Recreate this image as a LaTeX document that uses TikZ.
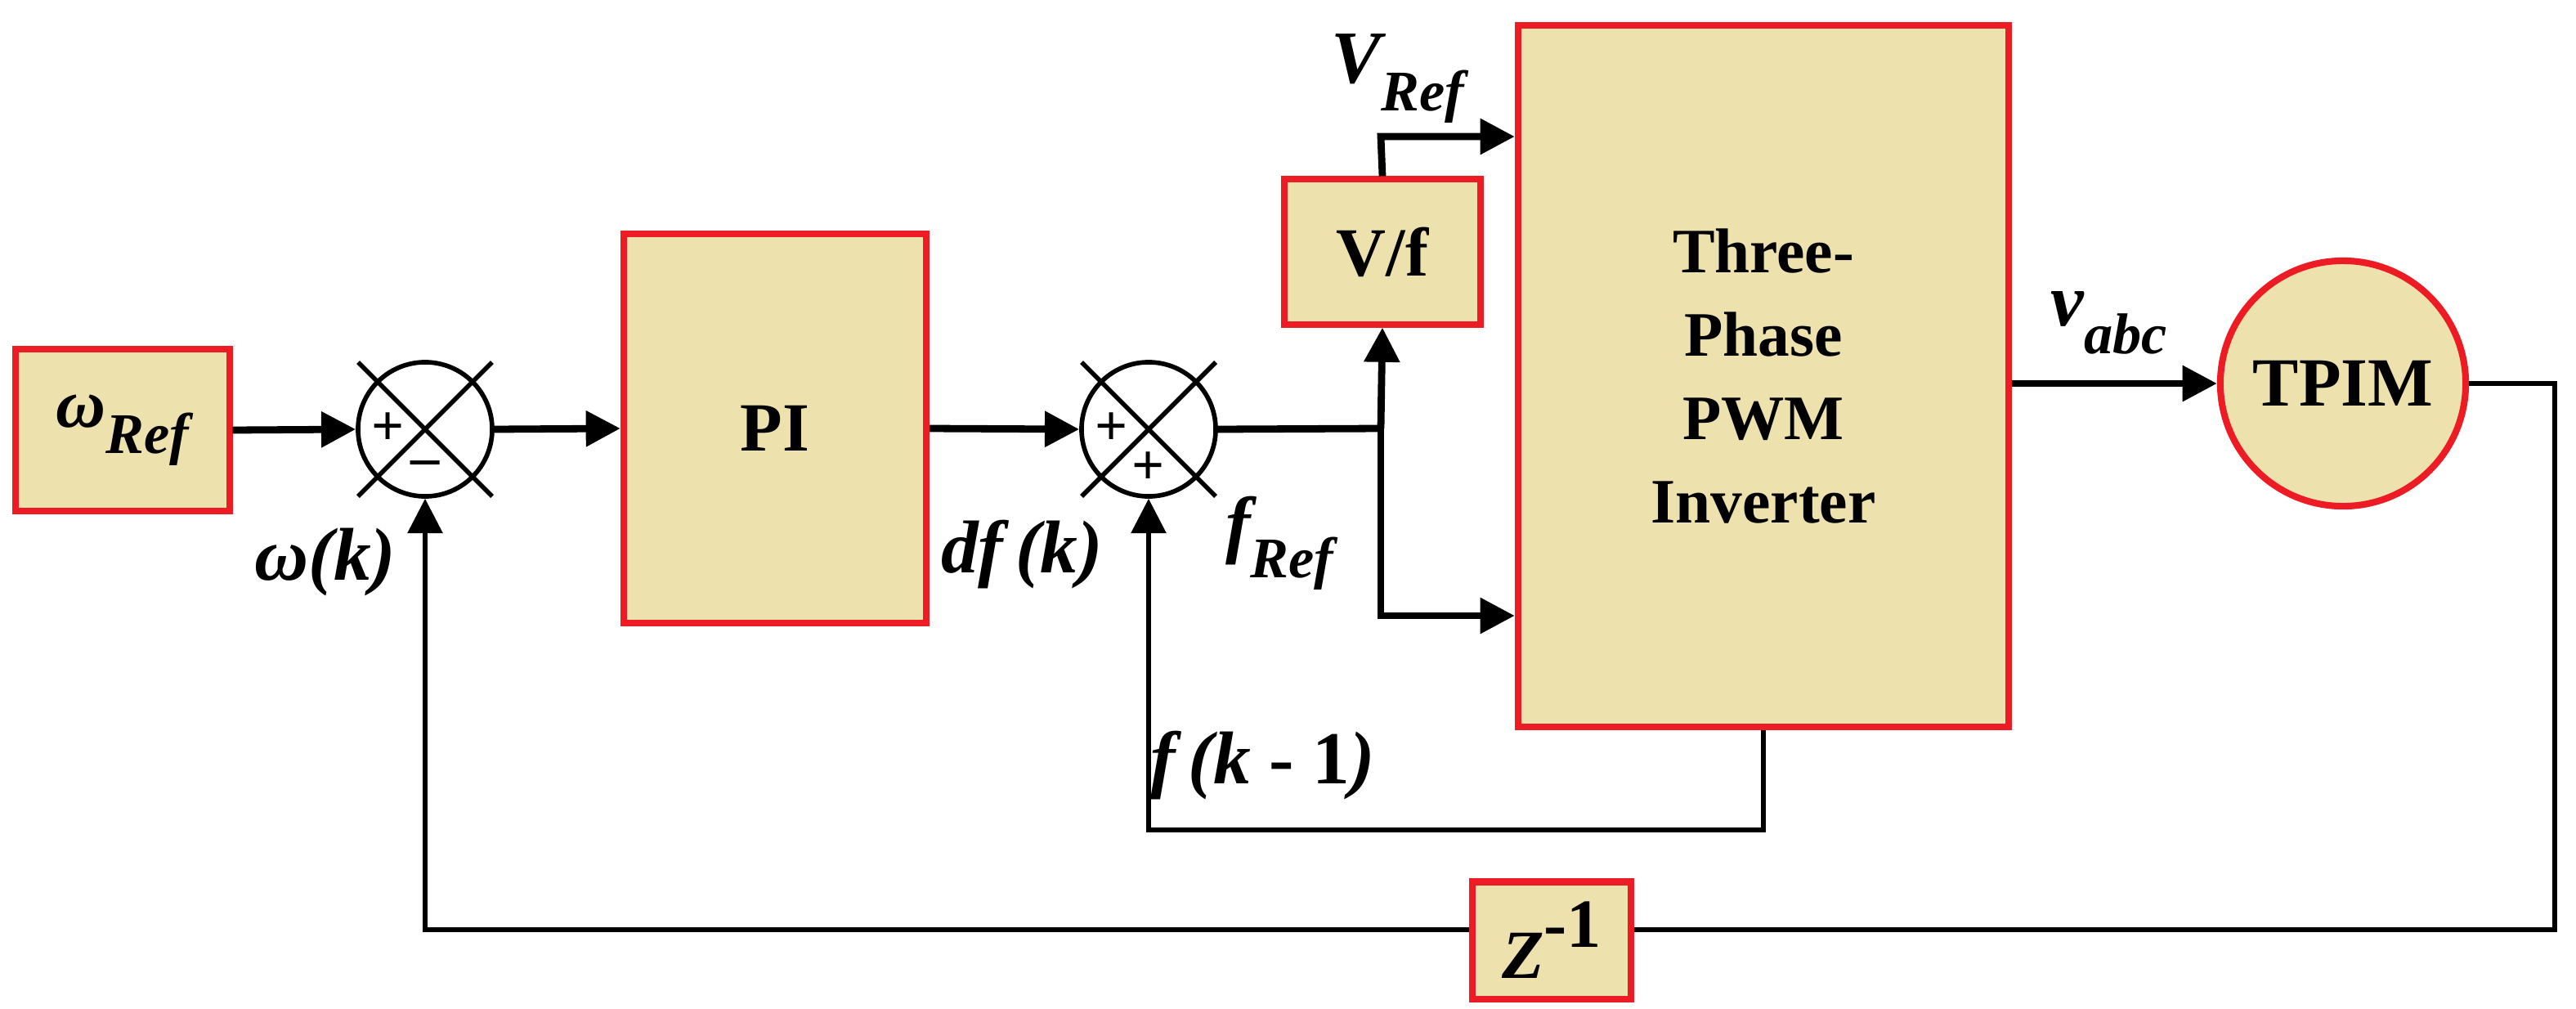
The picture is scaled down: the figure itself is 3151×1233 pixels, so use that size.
\documentclass[tikz,border=0pt]{standalone}
\usepackage{fontspec}
\setmainfont{Liberation Serif}
\usetikzlibrary{arrows.meta}
\definecolor{boxfill}{RGB}{237,225,174}
\definecolor{boxred}{RGB}{237,28,36}
\newcommand{\mysub}[1]{\raisebox{-0.38em}{\fontsize{20}{22}\selectfont\bfseries\itshape #1}}
\begin{document}
\begin{tikzpicture}[x=0.01cm,y=-0.01cm,
  blk/.style={draw=boxred,fill=boxfill,line width=2.3pt,inner sep=0pt,font=\fontsize{24}{27}\selectfont\bfseries,align=center},
  sumj/.style={circle,draw,line width=1.6pt,minimum size=1.64cm,inner sep=0pt},
  wire/.style={line width=2.5pt},
  fb/.style={line width=1.5pt},
  arr/.style={-{Triangle[length=12pt,width=12pt]}},
  lbl/.style={font=\fontsize{26}{28}\selectfont\bfseries\itshape,inner sep=0pt}]
\useasboundingbox (0,0) rectangle (3151,1233);
\node[blk,minimum width=2.61cm,minimum height=1.98cm] (wref) at (150,526) {\itshape ω\mysub{Ref}};
\node[sumj] (s1) at (520,525) {};
\node[blk,minimum width=3.70cm,minimum height=4.75cm] (pi) at (948,524) {PI};
\node[sumj] (s2) at (1405,525) {};
\node[blk,minimum width=2.40cm,minimum height=1.77cm] (vf) at (1691,308) {V/f};
\node[blk,minimum width=6.00cm,minimum height=8.57cm,font=\fontsize{22}{29}\selectfont\bfseries] (inv) at (2157,460) {Three-\\Phase\\PWM\\Inverter};
\node[blk,circle,minimum size=3.0cm] (tpim) at (2866,469) {TPIM};
\node[blk,minimum width=1.94cm,minimum height=1.43cm] (z) at (1898,1150) {\itshape Z\raisebox{0.45em}{\upshape -1}};
% X marks and signs
\foreach \s in {s1,s2}{
  \draw[line width=1.6pt] ([shift={(-82,-82)}]\s.center) -- ([shift={(82,82)}]\s.center);
  \draw[line width=1.6pt] ([shift={(82,-82)}]\s.center) -- ([shift={(-82,82)}]\s.center);
  \node[font=\fontsize{20}{20}\selectfont\bfseries] at ([shift={(-45,0)}]\s.center) {+};
}
\node[font=\fontsize{20}{20}\selectfont\bfseries] at ([shift={(0,48)}]s1.center) {–};
\node[font=\fontsize{20}{20}\selectfont\bfseries] at ([shift={(0,48)}]s2.center) {+};
% coordinates
\coordinate (br) at (1689,524);
\coordinate (br2) at (1689,753);
\coordinate (vtop) at (1689,167);
\coordinate (rt) at (3125,469);
\coordinate (rb) at (3125,1137);
\coordinate (lb) at (520,1137);
\coordinate (ib) at (2157,1015);
\coordinate (sb) at (1405,1015);
% connectors
\draw[wire,arr] (wref.east) -- (s1.west);
\draw[wire,arr] (s1.east) -- (pi.west);
\draw[wire,arr] (pi.east) -- (s2.west);
\draw[wire] (s2.east) -- (br);
\draw[wire,arr] (br) -- (vf.south);
\draw[wire,arr] (br) -- (br2) -- (inv.west |- br2);
\draw[wire,arr] (vf.north) -- (vtop) -- (inv.west |- vtop);
\draw[wire,arr] (inv.east |- tpim.west) -- (tpim.west);
\draw[fb] (tpim.east) -- (rt) -- (rb) -- (z.east |- rb);
\draw[fb,arr] (z.west |- lb) -- (lb) -- (s1.south);
\draw[fb,arr] (inv.south) -- (ib) -- (sb) -- (s2.south);
% labels
\node[lbl] (lw) at (398,688) {ω(k)};
\node[lbl] (ldf) at (1250,678) {df\,(k)};
\node[lbl] (lfr) at (1565,664) {f\mysub{Ref}};
\node[lbl] (lvr) at (1710,96) {V\mysub{Ref}};
\node[lbl] (lva) at (2580,395) {v\mysub{abc}};
\node[lbl] (lfk) at (1545,936) {f\,(k {\upshape -} {\upshape 1})};
\end{tikzpicture}
\end{document}
